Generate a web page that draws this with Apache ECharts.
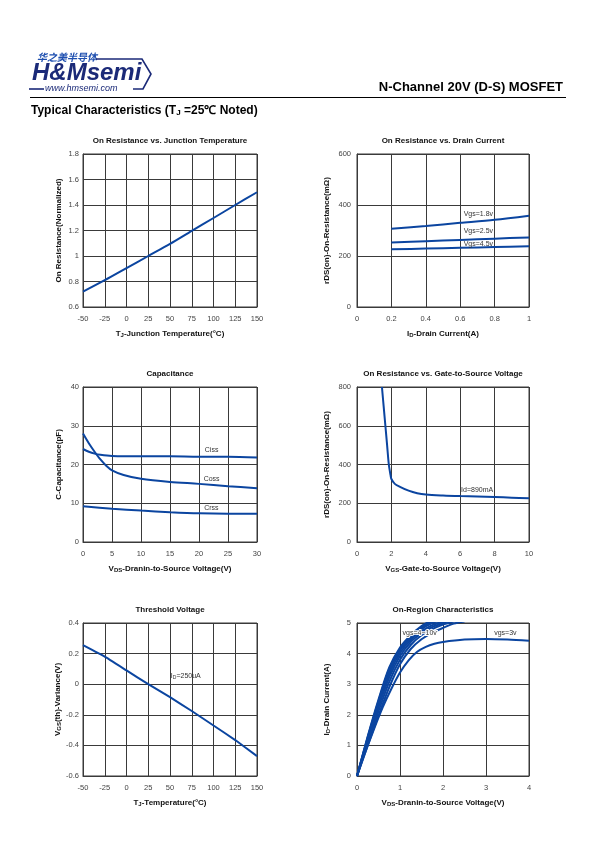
<!DOCTYPE html>
<html><head><meta charset="utf-8">
<script src="https://cdn.jsdelivr.net/npm/echarts@6/dist/echarts.min.js"></script>
<style>html,body{margin:0;padding:0;background:#fff}#c{width:595px;height:842px}</style>
</head><body><div id="c"></div>
<script>
// ---------- DATA ----------
// Chart 1: On Resistance vs Junction Temperature
const c1Temp = [-50,-25,0,25,50,75,100,125,150];
const c1Rds  = [0.72,0.81,0.905,1.0,1.095,1.197,1.298,1.4,1.5];
// Chart 2: On Resistance vs Drain Current
const c2Id    = [0.2,0.4,0.6,0.8,1.0];
const c2Vgs18 = [307,318,330,342,358];
const c2Vgs25 = [253,258,263,268,273];
const c2Vgs45 = [226,229,232,235,238];
// Chart 3: Capacitance
const c3VdsCiss = [0,1,2,3,5,10,15,20,25,30];
const c3Ciss    = [24,23.3,22.8,22.5,22.2,22.1,22.1,22.0,22.0,21.8];
const c3VdsCoss = [0,1,2,3,4,5,7,10,15,20,25,30];
const c3Coss    = [28,25.5,23.3,21.3,19.7,18.5,17.3,16.3,15.5,15.0,14.4,13.9];
const c3VdsCrss = [0,5,10,15,20,25,30];
const c3Crss    = [9.2,8.6,8.1,7.7,7.4,7.3,7.3];
// Chart 4: On Resistance vs Gate-to-Source Voltage
const c4Vgs = [1.45,1.55,1.65,1.75,1.85,1.95,2.0,2.2,2.5,3,3.5,4,5,6,7,8,9,10];
const c4Rds = [800,700,600,500,400,345,325,300,285,265,252,245,240,237,235,232,229,226];
// Chart 5: Threshold Voltage
const c5Temp = [-50,-25,0,25,50,75,100,125,150];
const c5Vth  = [0.255,0.18,0.09,0.0,-0.085,-0.175,-0.27,-0.365,-0.47];
// Chart 6: On-Region Characteristics
const c6Vds = [0,0.25,0.5,0.75,1.0,1.25,1.5,1.75,2.0,2.25,2.5];
const c6Vgs10 = [0,1.30,2.50,3.55,4.20,4.60,4.90,5.10];
const c6Vgs9  = [0,1.27,2.45,3.50,4.15,4.55,4.85,5.05];
const c6Vgs8  = [0,1.24,2.40,3.42,4.10,4.50,4.80,5.00,5.10];
const c6Vgs7  = [0,1.20,2.33,3.33,4.02,4.45,4.73,4.93,5.05];
const c6Vgs6  = [0,1.15,2.25,3.22,3.92,4.38,4.67,4.87,5.00,5.10];
const c6Vgs5  = [0,1.08,2.12,3.08,3.80,4.28,4.60,4.80,4.95,5.05];
const c6Vgs4  = [0,1.00,1.98,2.90,3.65,4.15,4.47,4.68,4.84,4.98,5.05];
const c6Vds3  = [0,0.2,0.4,0.6,0.8,1.0,1.2,1.4,1.6,1.8,2.0,2.5,3.0,3.5,4.0];
const c6Vgs3  = [0,0.8,1.55,2.25,2.85,3.38,3.78,4.06,4.22,4.32,4.38,4.46,4.48,4.46,4.42];

// ---------- helpers ----------
const zip = (xs, ys) => ys.map((y, i) => [xs[i], y]);
const FONT = 'Liberation Sans, Arial, sans-serif';
const BLUE = '#0b45a0';
const GRID = '#3a3a3a';
const sub = {s:{fontSize:6, fontWeight:'bold', color:'#111', fontFamily:FONT, verticalAlign:'bottom', padding:[3,0,0,0]}};

const grids = [
  {left:83, top:154, width:174, height:153},
  {left:357, top:154, width:172, height:153},
  {left:83, top:387, width:174, height:155},
  {left:357, top:387, width:172, height:155},
  {left:83, top:623, width:174, height:153},
  {left:357, top:623, width:172, height:153}
].map(g => Object.assign({show:true, borderColor:GRID, borderWidth:1, backgroundColor:'#fff'}, g));

function xa(i, min, max, interval, name){
  return {gridIndex:i, type:'value', min, max, interval, name, nameLocation:'middle', nameGap:22,
    nameTextStyle:{fontFamily:FONT, fontSize:8, fontWeight:'bold', color:'#111', rich:sub},
    axisLine:{show:true, onZero:false, lineStyle:{color:GRID}}, axisTick:{show:false},
    axisLabel:{fontFamily:FONT, fontSize:7.5, color:'#444', margin:8},
    splitLine:{show:true, lineStyle:{color:GRID, width:1}}};
}
function ya(i, min, max, interval, name, gap, margin){
  return {gridIndex:i, type:'value', min, max, interval, name, nameLocation:'middle', nameGap:gap,
    nameTextStyle:{fontFamily:FONT, fontSize:8, fontWeight:'bold', color:'#111', rich:sub},
    axisLine:{show:true, onZero:false, lineStyle:{color:GRID}}, axisTick:{show:false},
    axisLabel:{fontFamily:FONT, fontSize:7.5, color:'#444', margin:margin},
    splitLine:{show:true, lineStyle:{color:GRID, width:1}}};
}
function line(i, data, w){
  return {type:'line', xAxisIndex:i, yAxisIndex:i, data, smooth:0.3, showSymbol:false, symbol:'none',
    clip:true, lineStyle:{color:BLUE, width:w||2}, silent:true, animation:false, z:3};
}
function tag(text, coord){
  return {symbol:'circle', symbolSize:0, silent:true, animation:false,
    label:{show:true, position:'right', distance:0, formatter:text, fontFamily:FONT, fontSize:7, color:'#333'},
    data:[{coord}]};
}
function title(text, grid){
  return {type:'text', x:grid.left + grid.width/2, y:grid.top - 17,
    style:{text, fontFamily:FONT, fontSize:8, fontWeight:'bold', fill:'#111',
      align:'center', textAlign:'center', verticalAlign:'top', textVerticalAlign:'top'}};
}

const s = [];
// chart 1
s.push(line(0, zip(c1Temp, c1Rds)));
// chart 2
s.push(Object.assign(line(1, zip(c2Id, c2Vgs18)), {markPoint:tag('Vgs=1.8v',[0.62,363])}));
s.push(Object.assign(line(1, zip(c2Id, c2Vgs25)), {markPoint:tag('Vgs=2.5v',[0.62,296])}));
s.push(Object.assign(line(1, zip(c2Id, c2Vgs45)), {markPoint:tag('Vgs=4.5v',[0.62,246])}));
// chart 3
s.push(Object.assign(line(2, zip(c3VdsCiss, c3Ciss)), {markPoint:tag('Ciss',[21.0,23.7])}));
s.push(Object.assign(line(2, zip(c3VdsCoss, c3Coss)), {markPoint:tag('Coss',[20.8,16.2])}));
s.push(Object.assign(line(2, zip(c3VdsCrss, c3Crss)), {markPoint:tag('Crss',[20.9,8.7])}));
// chart 4
s.push(Object.assign(line(3, zip(c4Vgs, c4Rds)), {markPoint:tag('Id=890mA',[6.05,268])}));
// chart 5
const c5s = Object.assign(line(4, zip(c5Temp, c5Vth)), {smooth:0.1, markPoint:tag('I{s|D}=250uA',[51,0.055])});
c5s.markPoint.label.rich = {s:{fontSize:5, fontFamily:FONT, color:'#333', padding:[3,0,0,0]}};
s.push(c5s);
// chart 6
[c6Vgs10,c6Vgs9,c6Vgs8,c6Vgs7,c6Vgs6,c6Vgs5,c6Vgs4].forEach(v => s.push(line(5, zip(c6Vds, v), 2)));
s.push(Object.assign(line(5, zip(c6Vds3, c6Vgs3), 2), {markPoint:tag('vgs=3v',[3.19,4.66])}));
const tag410 = Object.assign(tag('vgs=4~10v',[1.06,4.66]), {z:20});
tag410.label.textBorderColor = '#fff';
tag410.label.textBorderWidth = 2;
s.push({type:'line', xAxisIndex:5, yAxisIndex:5, data:[], z:20, markPoint:tag410});

const option = {
  backgroundColor:'#fff',
  animation:false,
  grid: grids,
  xAxis:[
    xa(0,-50,150,25,'T{s|J}-Junction Temperature(°C)'),
    xa(1,0,1,0.2,'I{s|D}-Drain Current(A)'),
    xa(2,0,30,5,'V{s|DS}-Dranin-to-Source Voltage(V)'),
    xa(3,0,10,2,'V{s|GS}-Gate-to-Source Voltage(V)'),
    xa(4,-50,150,25,'T{s|J}-Temperature(°C)'),
    xa(5,0,4,1,'V{s|DS}-Dranin-to-Source Voltage(V)')
  ],
  yAxis:[
    ya(0,0.6,1.8,0.2,'On Resistance(Normalized)',20,4),
    ya(1,0,600,200,'rDS(on)-On-Resistance(mΩ)',26,6),
    ya(2,0,40,10,'C-Capacitance(pF)',20,4),
    ya(3,0,800,200,'rDS(on)-On-Resistance(mΩ)',26,6),
    ya(4,-0.6,0.4,0.2,'V{s|GS}(th)-Variance(V)',20,4),
    ya(5,0,5,1,'I{s|D}-Drain Current(A)',26,6)
  ],
  series: s,
  graphic: [
    // header
    {type:'text', left:37, top:52, style:{text:'华之美半导体', fontFamily:'Noto Sans CJK SC', fontSize:10, fontWeight:'bold', fontStyle:'italic', fill:'#1e4fb0'}},
    {type:'polyline', shape:{points:[[96,59],[142,59],[151,74],[143,89],[133,89]]}, style:{stroke:'#1b2a78', lineWidth:1.6, fill:null}},
    {type:'text', left:32, top:61, style:{text:'H&Msemi', fontFamily:FONT, fontSize:24, fontWeight:'bold', fontStyle:'italic', fill:'#1b2a78'}},
    {type:'line', shape:{x1:29, y1:89, x2:44, y2:89}, style:{stroke:'#1b2a78', lineWidth:1.6}},
    {type:'text', left:45, top:84, style:{text:'www.hmsemi.com', fontFamily:FONT, fontSize:9, fontStyle:'italic', fill:'#1b2a78'}},
    {type:'line', shape:{x1:30, y1:97.5, x2:566, y2:97.5}, style:{stroke:'#000', lineWidth:1}},
    {type:'text', right:32, top:81, style:{text:'N-Channel 20V (D-S) MOSFET', fontFamily:FONT, fontSize:13, fontWeight:'bold', fill:'#000'}},
    {type:'text', left:31, top:105, style:{text:'Typical Characteristics (T{s|J} =25℃ Noted)', fontFamily:FONT, fontSize:12, fontWeight:'bold', fill:'#000',
      rich:{s:{fontSize:8, fontFamily:FONT, fontWeight:'bold', fill:'#000', padding:[4,0,0,0]}}}},
    title('On Resistance vs. Junction Temperature', grids[0]),
    title('On Resistance vs. Drain Current', grids[1]),
    title('Capacitance', grids[2]),
    title('On Resistance vs. Gate-to-Source Voltage', grids[3]),
    title('Threshold Voltage', grids[4]),
    title('On-Region Characteristics', grids[5])
  ]
};
const chart = echarts.init(document.getElementById('c'), null, {renderer:'canvas', width:595, height:842});
chart.setOption(option);
</script>
</body></html>
